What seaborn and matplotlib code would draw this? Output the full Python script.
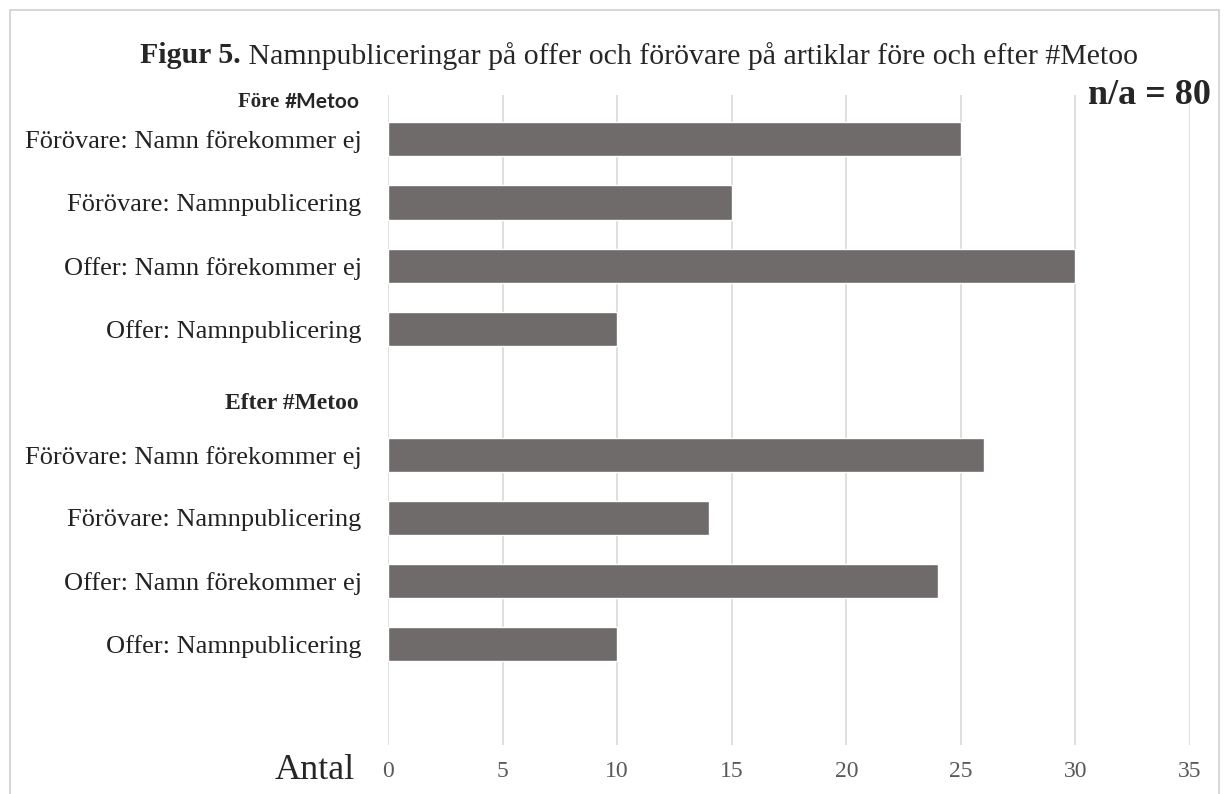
import numpy as np
import pandas as pd
import matplotlib
matplotlib.use("Agg")
import matplotlib.pyplot as plt
import seaborn as sns
from matplotlib.patches import Rectangle

# data
rad_etiketter = ["Förövare: Namn förekommer ej", "Förövare: Namnpublicering",
                 "Offer: Namn förekommer ej", "Offer: Namnpublicering"]
fore_metoo = [25, 15, 30, 10]
efter_metoo = [26, 14, 24, 10]
x_ticks = [0, 5, 10, 15, 20, 25, 30, 35]

sns.set_theme(style="white")
plt.rcParams['font.family'] = ['Liberation Serif', 'DejaVu Serif']

rows = []
for lab, v in zip(rad_etiketter, fore_metoo):
    rows.append({"key": "F|" + lab, "antal": v})
for lab, v in zip(rad_etiketter, efter_metoo):
    rows.append({"key": "E|" + lab, "antal": v})
df = pd.DataFrame(rows)
order = ["F|" + l for l in rad_etiketter] + ["__gap__"] + ["E|" + l for l in rad_etiketter]

fig = plt.figure(figsize=(12.28, 7.94), dpi=100)
ax = fig.add_axes([0.316, 0.062, 0.653, 0.818])

sns.barplot(data=df, x="antal", y="key", order=order, orient="h",
            color="#6f6b6a", saturation=1, width=0.54, ax=ax)

ax.set_xlim(0, 35)
ax.set_ylim(9.6, -0.7)
ax.set_xticks(x_ticks)
ax.set_xticklabels([str(t) for t in x_ticks], fontsize=17, color="#595959")
ax.set_yticks(range(len(order)))
ax.set_yticklabels([k.split("|", 1)[1] if "|" in k else "" for k in order],
                   fontsize=19, color="#222222")
ax.tick_params(axis="y", length=0, pad=19)
ax.tick_params(axis="x", length=0, pad=12)
ax.set_xlabel("")
ax.set_ylabel("")
ax.xaxis.grid(True, color="#d9d9d9", linewidth=1.2)
ax.set_axisbelow(True)
for s in ax.spines.values():
    s.set_visible(False)

# group headings
g1 = ax.text(-0.035, 0.989, "#Metoo", transform=ax.transAxes, ha="right",
             va="center", fontsize=15, fontweight="bold", family=["Lato", "DejaVu Sans"])
ax.annotate("Före ", xy=(0, 0.5), xycoords=g1, ha="right", va="center",
            fontsize=15, fontweight="bold", annotation_clip=False)
ax.text(-0.037, 0.526, "Efter #Metoo", transform=ax.transAxes, ha="right",
        va="center", fontsize=17, fontweight="bold")

# x axis label
fig.text(0.289, 0.030, "Antal", ha="right", va="center", fontsize=26)

# title: bold part + regular part
t1 = fig.text(0.114, 0.930, "Figur 5.", ha="left", va="center",
              fontsize=21.5, fontweight="bold")
ax.annotate(" Namnpubliceringar på offer och förövare på artiklar före och efter #Metoo",
            xy=(1, 0.5), xycoords=t1, ha="left", va="center", fontsize=21.5,
            annotation_clip=False)

fig.text(0.986, 0.880, "n/a = 80", ha="right", va="center",
         fontsize=26, fontweight="bold")

fig.patches.append(Rectangle((0.008, -0.01), 0.985, 0.998, transform=fig.transFigure,
                             fill=False, edgecolor="#cfcfcf", linewidth=1.2))

fig.savefig("out.png", dpi=100)
